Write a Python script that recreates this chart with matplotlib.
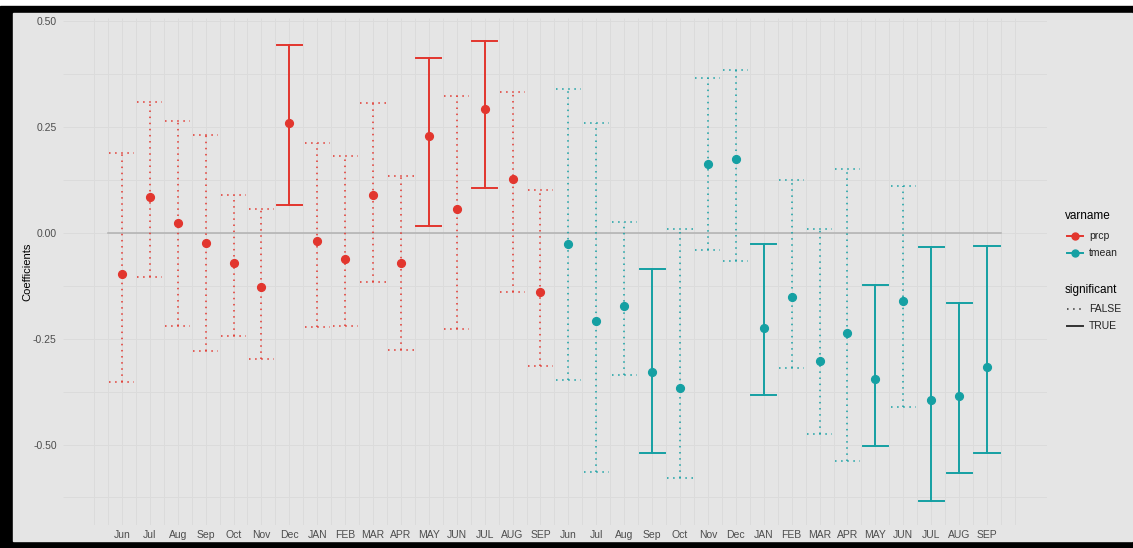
import matplotlib
matplotlib.use("Agg")
import matplotlib.pyplot as plt
from matplotlib.patches import Rectangle
import numpy as np

plt.rcParams['font.family'] = ['Liberation Sans', 'DejaVu Sans']

# month labels along the x axis: prcp months first, then tmean months
months = ['Jun', 'Jul', 'Aug', 'Sep', 'Oct', 'Nov', 'Dec', 'JAN', 'FEB', 'MAR',
          'APR', 'MAY', 'JUN', 'JUL', 'AUG', 'SEP']
labels = months + months

# precipitation coefficients with confidence limits
prcp_est = [-0.097, 0.086, 0.023, -0.023, -0.072, -0.127, 0.261, -0.018,
            -0.061, 0.090, -0.072, 0.229, 0.057, 0.292, 0.128, -0.140]
prcp_lo = [-0.352, -0.105, -0.220, -0.280, -0.243, -0.298, 0.066, -0.223,
           -0.220, -0.115, -0.277, 0.017, -0.228, 0.107, -0.139, -0.314]
prcp_hi = [0.188, 0.310, 0.265, 0.232, 0.090, 0.056, 0.444, 0.213,
           0.182, 0.308, 0.135, 0.414, 0.324, 0.454, 0.332, 0.102]
prcp_sig = [False, False, False, False, False, False, True, False,
            False, False, False, True, False, True, False, False]

# mean temperature coefficients with confidence limits
tmean_est = [-0.026, -0.207, -0.173, -0.328, -0.366, 0.162, 0.176, -0.224,
             -0.151, -0.303, -0.237, -0.344, -0.161, -0.395, -0.385, -0.316]
tmean_lo = [-0.348, -0.564, -0.336, -0.519, -0.580, -0.040, -0.066, -0.383,
            -0.320, -0.475, -0.538, -0.504, -0.410, -0.633, -0.566, -0.521]
tmean_hi = [0.340, 0.261, 0.027, -0.086, 0.009, 0.367, 0.385, -0.026,
            0.125, 0.009, 0.151, -0.124, 0.111, -0.032, -0.166, -0.031]
tmean_sig = [False, False, False, True, False, False, False, True,
             False, False, False, True, False, True, True, True]

red = '#E2362E'
teal = '#15A0A3'
bg = '#E5E5E5'
grid_col = '#DBDBDB'

W, H = 1133, 548
fig = plt.figure(figsize=(W / 100, H / 100), dpi=100)
fig.patch.set_facecolor('white')

# background layer in pixel coordinates: frame, panel fill, legend, y title
back = fig.add_axes([0, 0, 1, 1], zorder=-1)
back.set_xlim(0, W)
back.set_ylim(H, 0)
back.axis('off')
back.add_patch(Rectangle((0, 6), W, H - 6, color='black'))
back.add_patch(Rectangle((13, 13), 1119, 528, color=bg))
back.text(27, 272, 'Coefficients', rotation=90, ha='center', va='center',
          fontsize=8, color='black')

ax = fig.add_axes([63 / W, (H - 525) / H, 984 / W, 507 / H])
ax.set_facecolor('none')
for s in ax.spines.values():
    s.set_visible(False)

n = len(labels)
x = np.arange(n)
ax.set_xlim(-2.11, 33.15)
ax.set_ylim(-0.690, 0.508)

# grid lines
ygrid = np.arange(-0.625, 0.51, 0.125)
ax.hlines(ygrid, -2.11, 33.15, color=grid_col, lw=0.7, zorder=0)
xgrid = np.arange(-1, 32.01, 0.5)
ax.vlines(xgrid, -0.690, 0.508, color=grid_col, lw=0.7, zorder=0)

# zero reference line
ax.plot([-0.5, n - 0.5], [0, 0], color='#B0B0B0', lw=1.1, zorder=1)

dotted = (0, (1, 3))
half = 0.45
series = [(prcp_est, prcp_lo, prcp_hi, prcp_sig, red, 0),
          (tmean_est, tmean_lo, tmean_hi, tmean_sig, teal, len(months))]
for est, lo, hi, sig, col, off in series:
    for i in range(len(est)):
        xi = x[off + i]
        if sig[i]:
            ls, lw = '-', 1.4
        else:
            ls, lw = dotted, 1.1
        ax.plot([xi, xi], [lo[i], hi[i]], color=col, ls=ls, lw=lw, zorder=2)
        ax.plot([xi - half, xi + half], [lo[i], lo[i]], color=col, ls=ls, lw=lw, zorder=2)
        ax.plot([xi - half, xi + half], [hi[i], hi[i]], color=col, ls=ls, lw=lw, zorder=2)
    ax.plot(x[off:off + len(est)], est, 'o', color=col, ms=5.6, zorder=3)

ax.set_xticks(x)
ax.set_xticklabels(labels)
ax.set_yticks([-0.5, -0.25, 0, 0.25, 0.5])
ax.set_yticklabels(['-0.50', '-0.25', '0.00', '0.25', '0.50'])
ax.tick_params(axis='both', length=0, labelsize=7.5, colors='#4D4D4D')
ax.tick_params(axis='x', pad=3.5)
ax.tick_params(axis='y', pad=4.5)

# legend: varname
back.text(1065, 216, 'varname', fontsize=8.5, va='center', ha='left', color='black')
for yy, col, name in [(236, red, 'prcp'), (253, teal, 'tmean')]:
    back.plot([1067, 1083], [yy, yy], color=col, lw=1.4)
    back.plot([1075], [yy], 'o', color=col, ms=5)
    back.text(1089, yy, name, fontsize=7.5, va='center', ha='left', color='#222222')

# legend: significant
back.text(1065, 290, 'significant', fontsize=8.5, va='center', ha='left', color='black')
back.plot([1067, 1083], [309, 309], color='#333333', lw=1.1, ls=dotted)
back.text(1089, 309, 'FALSE', fontsize=7.5, va='center', ha='left', color='#222222')
back.plot([1067, 1083], [326, 326], color='#333333', lw=1.4)
back.text(1089, 326, 'TRUE', fontsize=7.5, va='center', ha='left', color='#222222')

fig.savefig('out.png', dpi=100)
